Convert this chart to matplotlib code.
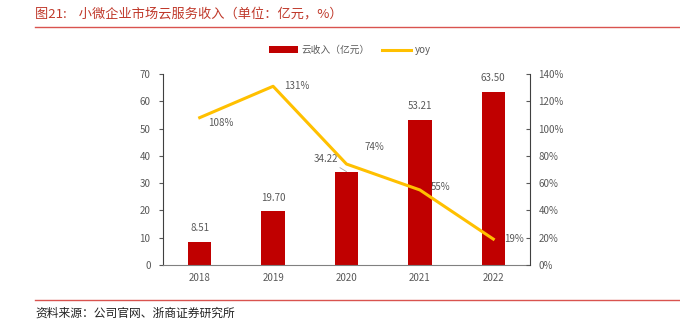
import matplotlib.pyplot as plt
import numpy as np

plt.rcParams['font.family'] = ['Noto Sans CJK SC', 'DejaVu Sans']

years = ['2018', '2019', '2020', '2021', '2022']
revenue = [8.51, 19.70, 34.22, 53.21, 63.50]
yoy = [108, 131, 74, 55, 19]

bar_color = '#C00000'
line_color = '#FFC000'
text_color = '#595959'

fig = plt.figure(figsize=(6.8, 3.26), dpi=100)
ax = fig.add_axes([163 / 680, 1 - 265 / 326, 367 / 680, 191 / 326])
ax2 = ax.twinx()

x = np.arange(len(years))
bars = ax.bar(x, revenue, width=0.32, color=bar_color, label='云收入（亿元）', zorder=2)
line, = ax2.plot(x, yoy, color=line_color, lw=2.2, label='yoy', zorder=3)

ax.set_xlim(-0.5, len(years) - 0.5)
ax.set_ylim(0, 70)
ax.set_yticks(range(0, 71, 10))
ax2.set_ylim(0, 140)
ax2.set_yticks(range(0, 141, 20))
ax2.set_yticklabels([f'{v}%' for v in range(0, 141, 20)])
ax.set_xticks(x)
ax.set_xticklabels(years)

for a in (ax, ax2):
    a.spines['top'].set_visible(False)
    a.tick_params(labelsize=7, colors=text_color, length=3, width=0.8)
ax.spines['right'].set_visible(False)
ax2.spines['left'].set_visible(False)
ax2.spines['bottom'].set_visible(False)
ax.spines['left'].set_color('#404040')
ax.spines['bottom'].set_color('#808080')
ax2.spines['right'].set_color('#404040')
ax.tick_params(axis='x', length=0, pad=6)
ax.tick_params(axis='y', direction='out', pad=6)
ax2.tick_params(axis='y', direction='in', pad=6)
ax.set_zorder(ax2.get_zorder() - 1)
ax2.patch.set_visible(False)

# bar values; 2020 sits left of the line so the label goes beside it with a leader
for xi, v in zip(x, revenue):
    if xi == 2:
        ax.annotate(f'{v:.2f}', (xi, v), xytext=(-6, 9), textcoords='offset points',
                    ha='right', va='center', fontsize=7, color=text_color,
                    arrowprops=dict(arrowstyle='-', color='#A6A6A6', lw=0.6,
                                    shrinkA=1, shrinkB=0))
    else:
        ax.annotate(f'{v:.2f}', (xi, v), xytext=(0, 6), textcoords='offset points',
                    ha='center', va='bottom', fontsize=7, color=text_color)

yoy_offsets = [(6, -4), (8, 0), (13, 12), (8, 2), (8, 0)]
for xi, v, off in zip(x, yoy, yoy_offsets):
    ax2.annotate(f'{v}%', (xi, v), xytext=off, textcoords='offset points',
                 ha='left', va='center', fontsize=7, color=text_color)

fig.legend(handles=[bars, line], loc='center', bbox_to_anchor=(350 / 680, 1 - 50 / 326),
           ncol=2, frameon=False, fontsize=7, labelcolor=text_color,
           handlelength=3, columnspacing=1.2, handletextpad=0.4)

fig.text(35 / 680, 1 - 14 / 326, '图21:    小微企业市场云服务收入（单位：亿元，%）',
         fontsize=9.5, color='#C0392B', va='center', ha='left')
fig.add_artist(plt.Line2D([35 / 680, 1], [1 - 27 / 326] * 2, color='#D9534F', lw=1))
fig.add_artist(plt.Line2D([35 / 680, 1], [1 - 300 / 326] * 2, color='#D9534F', lw=1))
fig.text(35 / 680, 1 - 313 / 326, '资料来源：公司官网、浙商证券研究所',
         fontsize=8.5, color='#222222', va='center', ha='left')

fig.savefig('out.png', dpi=100)
